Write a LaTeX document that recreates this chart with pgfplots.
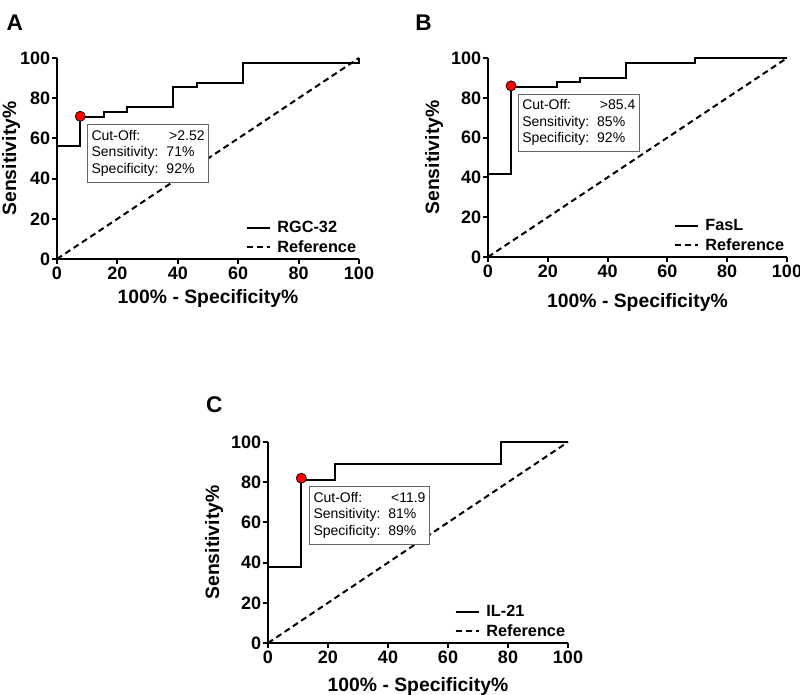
\documentclass[border=0pt]{standalone}
\usepackage{fontspec}
\setmainfont{Liberation Sans}
\usepackage{pgfplots}
\pgfplotsset{compat=1.18}

\pgfplotsset{
  rocax/.style 2 args={
    scale only axis, anchor=origin,
    xmin=0, xmax=100, ymin=0, ymax=100,
    axis x line*=bottom, axis y line*=left,
    axis line style={line width=1.5pt},
    xtick={0,20,...,100}, ytick={0,20,...,100},
    tick align=outside, major tick length=3.5pt,
    tick style={line width=1.5pt, black},
    /pgf/number format/assume math mode=true,
    ticklabel style={font=\fontsize{13.5}{15}\selectfont\bfseries},
    yticklabel style={inner sep=1.5pt},
    xticklabel style={inner sep=2pt},
    label style={font=\fontsize{14.5}{17}\selectfont\bfseries},
    xlabel={100\% - Specificity\%}, ylabel={Sensitivity\%},
    ylabel style={at={([xshift=-#1]axis description cs:0,0.5)}, anchor=south, rotate=0, inner sep=0pt},
    xlabel style={at={([yshift=-#2]axis description cs:0.5,0)}, anchor=north, inner sep=0pt},
    legend style={at={(1,0)}, anchor=south east, draw=none, fill=none, inner sep=0pt,
      yshift=1.5pt, font=\fontsize{12.2}{15}\selectfont\bfseries, row sep=0.5pt},
    legend cell align=left,
    clip=false,
  },
  roc/.style={black, line width=1.5pt},
  refline/.style={black, line width=1.5pt, dash pattern=on 4.5pt off 3pt},
  cut/.style={only marks, mark=*, mark size=3.8pt, mark options={fill=red, draw=black, line width=0.5pt}},
}
\newcommand{\infobox}[3]{%
  \fontsize{10.5}{12.4}\selectfont
  \begin{tabular}{@{}l@{\hspace{6pt}}l@{}}
  Cut-Off: & \hspace{2pt}#1\\
  Sensitivity: & #2\\
  Specificity: & #3
  \end{tabular}}

\begin{document}
\begin{tikzpicture}
\path[use as bounding box] (0,0) rectangle (600pt,-520.5pt);

\node[anchor=base west, font=\fontsize{17}{20}\selectfont\bfseries] at (1.5pt,-22.5pt) {A};
\node[anchor=base west, font=\fontsize{17}{20}\selectfont\bfseries] at (308pt,-22.5pt) {B};
\node[anchor=base west, font=\fontsize{17}{20}\selectfont\bfseries] at (151pt,-309pt) {C};

% Panel A
\begin{axis}[rocax={27.5pt}{22.5pt}, at={(42.75pt,-194.25pt)}, width=226.5pt, height=150.75pt]
\addplot[roc] coordinates {(0,56.1) (7.7,56.1) (7.7,70.7) (15.4,70.7) (15.4,73.2) (23.1,73.2) (23.1,75.6) (38.5,75.6) (38.5,85.4) (46.2,85.4) (46.2,87.8) (61.5,87.8) (61.5,97.6) (100,97.6) (100,100)};
\addlegendentry{\hspace{3pt}RGC-32}
\addplot[refline] coordinates {(0,0) (100,100)};
\addlegendentry{\hspace{3pt}Reference}
\addplot[cut, forget plot] coordinates {(7.7,71)};
\node[draw=black!60, fill=white, line width=0.6pt, anchor=north west, inner sep=3pt] at (axis cs:10,67) {\infobox{>2.52}{71\%}{92\%}};
\end{axis}

% Panel B
\begin{axis}[rocax={33.5pt}{27pt}, at={(366pt,-192.75pt)}, width=224.25pt, height=149.25pt]
\addplot[roc] coordinates {(0,41.5) (7.7,41.5) (7.7,85.4) (23.1,85.4) (23.1,87.8) (30.8,87.8) (30.8,90.2) (46.2,90.2) (46.2,97.6) (69.2,97.6) (69.2,100) (100,100)};
\addlegendentry{\hspace{3pt}FasL}
\addplot[refline] coordinates {(0,0) (100,100)};
\addlegendentry{\hspace{3pt}Reference}
\addplot[cut, forget plot] coordinates {(7.7,86)};
\node[draw=black!60, fill=white, line width=0.6pt, anchor=north west, inner sep=3pt] at (axis cs:10,82) {\infobox{>85.4}{85\%}{92\%}};
\end{axis}

% Panel C
\begin{axis}[rocax={33.5pt}{25.5pt}, at={(201pt,-482.25pt)}, width=225pt, height=150.75pt]
\addplot[roc] coordinates {(0,38) (11.1,38) (11.1,81) (22.2,81) (22.2,89) (77.8,89) (77.8,100) (100,100)};
\addlegendentry{\hspace{3pt}IL-21}
\addplot[refline] coordinates {(0,0) (100,100)};
\addlegendentry{\hspace{3pt}Reference}
\addplot[cut, forget plot] coordinates {(11.1,82)};
\node[draw=black!60, fill=white, line width=0.6pt, anchor=north west, inner sep=3pt] at (axis cs:13.7,78) {\infobox{<11.9}{81\%}{89\%}};
\end{axis}
\end{tikzpicture}
\end{document}
